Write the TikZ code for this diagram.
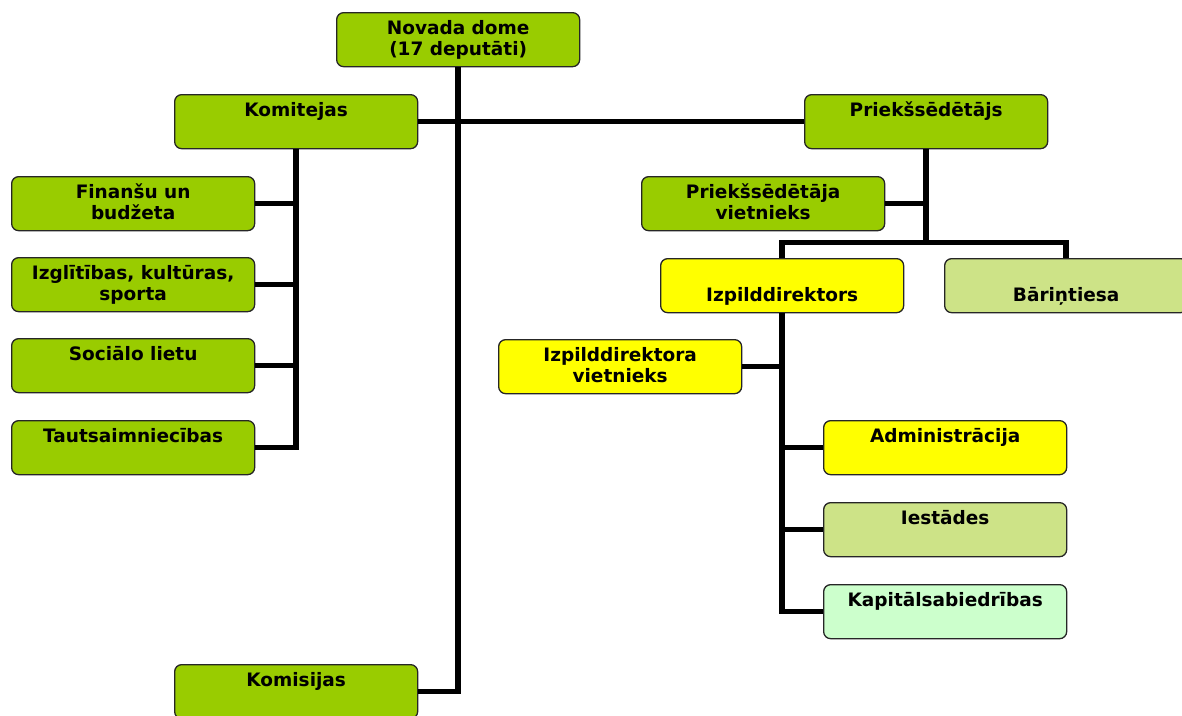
\documentclass[tikz,border=0pt]{standalone}
\usepackage{fontspec}
\setmainfont{DejaVu Sans}
\usetikzlibrary{calc}
\definecolor{cgreen}{RGB}{153,204,0}
\definecolor{cyellow}{RGB}{255,255,0}
\definecolor{colive}{RGB}{205,227,135}
\definecolor{cmint}{RGB}{204,255,204}
\newcommand{\bxt}[1]{\parbox[t][54pt][t]{243pt}{\centering\rule{0pt}{22pt}#1}}
\begin{document}
\begin{tikzpicture}[x=1pt,y=-1pt,
  box/.style={draw=black!85, line width=1.3pt, rounded corners=7pt, inner sep=0pt,
    anchor=north west, font=\fontsize{18.5}{21}\selectfont\bfseries},
  conn/.style={line width=5.5pt, line join=miter, draw=black}]
\useasboundingbox (0,0) rectangle (1182,715);
\fill[white] (0,0) rectangle (1182,715);
% boxes
\node[box, fill=cgreen] (dome) at (336,12) {\bxt{Novada dome\\(17 deputāti)}};
\node[box, fill=cgreen] (komitejas) at (174,94) {\bxt{Komitejas}};
\node[box, fill=cgreen] (priek) at (804,94) {\bxt{Priekšsēdētājs}};
\node[box, fill=cgreen] (fin) at (11,176) {\bxt{Finanšu un\\budžeta}};
\node[box, fill=cgreen] (izgl) at (11,257) {\bxt{Izglītības, kultūras,\\sporta}};
\node[box, fill=cgreen] (soc) at (11,338) {\bxt{Sociālo lietu}};
\node[box, fill=cgreen] (taut) at (11,420) {\bxt{Tautsaimniecības}};
\node[box, fill=cgreen] (komisijas) at (174,664) {\bxt{Komisijas}};
\node[box, fill=cgreen] (vietn) at (641,176) {\bxt{Priekšsēdētāja\\vietnieks}};
\node[box, fill=cyellow] (izp) at (660,258) {\bxt{\mbox{}\\Izpilddirektors}};
\node[box, fill=colive] (bar) at (944,258) {\bxt{\mbox{}\\Bāriņtiesa}};
\node[box, fill=cyellow] (izpv) at (498,339) {\bxt{Izpilddirektora\\vietnieks}};
\node[box, fill=cyellow] (admin) at (823,420) {\bxt{Administrācija}};
\node[box, fill=colive] (iest) at (823,502) {\bxt{Iestādes}};
\node[box, fill=cmint] (kapit) at (823,584) {\bxt{Kapitālsabiedrības}};
\coordinate (hub) at ($(priek.south)+(0,93)$);
% connectors
\draw[conn] (dome.south) |- (komisijas.east);
\draw[conn] (komitejas.east) -- (priek.west);
\draw[conn] (komitejas.south) |- (taut.east);
\draw[conn] (fin.east) -- (fin.east -| komitejas.south);
\draw[conn] (izgl.east) -- (izgl.east -| komitejas.south);
\draw[conn] (soc.east) -- (soc.east -| komitejas.south);
\draw[conn] (priek.south) -- (hub);
\draw[conn] (vietn.east) -- (vietn.east -| priek.south);
\draw[conn] (izp.north) |- (hub) -| (bar.north);
\draw[conn] (izp.south) |- (kapit.west);
\draw[conn] (izpv.east) -- (izpv.east -| izp.south);
\draw[conn] (admin.west) -- (admin.west -| izp.south);
\draw[conn] (iest.west) -- (iest.west -| izp.south);
\end{tikzpicture}
\end{document}
